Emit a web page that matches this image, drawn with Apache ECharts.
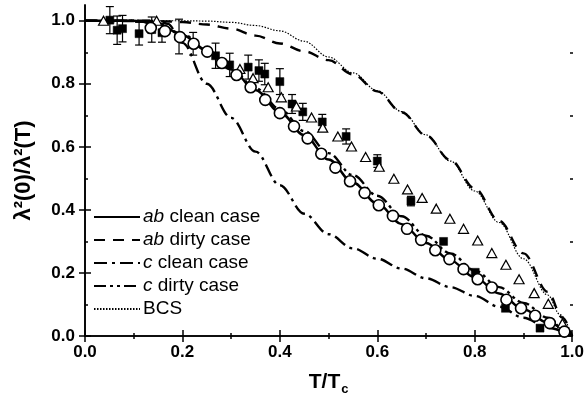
<!DOCTYPE html>
<html><head><meta charset="utf-8">
<script src="https://cdn.jsdelivr.net/npm/echarts@6/dist/echarts.min.js"></script>
<style>html,body{margin:0;padding:0;background:#fff}#c{width:587px;height:403px}</style>
</head><body><div id="c"></div>
<script>
// ---- data ----
const xTicks = [0, 0.2, 0.4, 0.6, 0.8, 1.0];
const yTicks = [0, 0.2, 0.4, 0.6, 0.8, 1.0];
const yMinorTicks = [0.1, 0.3, 0.5, 0.7, 0.9];

const abClean = [[0,1],[0.1,1],[0.15,0.99],[0.2,0.955],[0.25,0.905],[0.3,0.845],[0.35,0.78],[0.4,0.71],[0.45,0.637],[0.5,0.56],[0.55,0.487],[0.6,0.42],[0.65,0.355],[0.7,0.295],[0.75,0.24],[0.8,0.186],[0.85,0.135],[0.9,0.085],[0.95,0.042],[1,0]];
const abDirty = [[0,1],[0.15,0.999],[0.2,0.996],[0.25,0.988],[0.3,0.975],[0.35,0.953],[0.4,0.928],[0.45,0.903],[0.5,0.875],[0.55,0.83],[0.6,0.776],[0.65,0.71],[0.7,0.636],[0.75,0.558],[0.8,0.468],[0.85,0.365],[0.9,0.262],[0.95,0.14],[0.98,0.058],[1,0]];
const cClean = [[0,1],[0.15,1],[0.17,0.99],[0.2,0.93],[0.25,0.8],[0.3,0.692],[0.35,0.585],[0.4,0.478],[0.45,0.388],[0.5,0.323],[0.55,0.278],[0.6,0.245],[0.65,0.214],[0.7,0.183],[0.75,0.155],[0.8,0.127],[0.85,0.093],[0.9,0.058],[0.95,0.026],[1,0]];
const cDirty = [[0,1],[0.1,1],[0.15,0.99],[0.2,0.958],[0.25,0.908],[0.3,0.848],[0.35,0.786],[0.4,0.72],[0.45,0.65],[0.5,0.58],[0.55,0.51],[0.6,0.445],[0.65,0.38],[0.7,0.318],[0.75,0.262],[0.8,0.208],[0.85,0.155],[0.9,0.105],[0.95,0.058],[0.98,0.024],[1,0]];
const bcs = [[0,1],[0.1,1],[0.2,1],[0.25,0.999],[0.3,0.995],[0.35,0.985],[0.4,0.968],[0.45,0.935],[0.5,0.885],[0.55,0.835],[0.6,0.778],[0.65,0.712],[0.7,0.638],[0.75,0.555],[0.8,0.46],[0.85,0.36],[0.9,0.245],[0.95,0.13],[0.975,0.068],[1,0]];

const circles = [[0.135,0.977],[0.164,0.967],[0.195,0.948],[0.223,0.927],[0.251,0.902],[0.281,0.866],[0.311,0.828],[0.340,0.789],[0.370,0.749],[0.400,0.707],[0.429,0.665],[0.457,0.627],[0.485,0.578],[0.514,0.534],[0.544,0.491],[0.574,0.454],[0.603,0.415],[0.632,0.381],[0.661,0.340],[0.690,0.305],[0.719,0.272],[0.748,0.244],[0.777,0.212],[0.806,0.180],[0.835,0.154],[0.865,0.115],[0.895,0.088],[0.924,0.064],[0.954,0.041],[0.984,0.014]];
const triangles = [[0.038,1.0],[0.147,1.0],[0.318,0.847],[0.345,0.818],[0.376,0.789],[0.403,0.757],[0.434,0.728],[0.465,0.693],[0.488,0.661],[0.519,0.633],[0.547,0.601],[0.576,0.568],[0.604,0.537],[0.634,0.499],[0.662,0.465],[0.692,0.438],[0.721,0.404],[0.749,0.372],[0.777,0.340],[0.806,0.303],[0.835,0.263],[0.864,0.226],[0.891,0.180],[0.922,0.136],[0.951,0.102],[0.980,0.040]];
// [T, value, error half-width]
const squares = [[0.051,1.002,0.043],[0.066,0.970,0.045],[0.077,0.975,0.042],[0.111,0.959,0.036],[0.137,0.972,0.040],[0.158,0.962,0.030],[0.193,0.950,0.055],[0.222,0.927,0.036],[0.268,0.889,0.040],[0.297,0.860,0.037],[0.335,0.853,0.038],[0.357,0.842,0.034],[0.369,0.831,0.034],[0.400,0.807,0.041],[0.425,0.736,0.030],[0.447,0.711,0.027],[0.487,0.679,0.024],[0.536,0.633,0.024],[0.600,0.555,0.020],[0.669,0.428,0.015],[0.736,0.300,0],[0.801,0.202,0],[0.863,0.088,0],[0.934,0.025,0]];

const FONT = '"Liberation Sans", Arial, sans-serif';
const chart = echarts.init(document.getElementById('c'), null, {renderer:'canvas'});
const gridRect = {left:85, right:14, top:5, bottom:67};
const axLine = {show:true, lineStyle:{color:'#000', width:1.6}};

function lineSeries(name, data, type, width){
  return {name, type:'line', data, smooth:0.35, smoothMonotone:'x', symbol:'none', showSymbol:false,
    xAxisIndex:0, yAxisIndex:0, z:2, silent:true,
    itemStyle:{color:'#000'},
    lineStyle:{color:'#000', width, type, cap:'butt'}};
}

chart.setOption({
  animation:false,
  backgroundColor:'#fff',
  grid:[Object.assign({}, gridRect), Object.assign({}, gridRect)],
  xAxis:[
    {gridIndex:0, type:'value', min:0, max:1, interval:0.2, position:'bottom',
     axisLine:axLine, splitLine:{show:false},
     axisTick:{show:true, inside:true, length:6, lineStyle:{color:'#000', width:1.5}},
     minorTick:{show:true, splitNumber:2, length:3, lineStyle:{color:'#000', width:1.5}},
     axisLabel:{customValues:xTicks, formatter:v=>v.toFixed(1), color:'#000', fontSize:17, fontWeight:'bold', fontFamily:FONT, margin:8},
     name:'{a|T/T}{b|c}', nameLocation:'middle', nameGap:33,
     nameTextStyle:{rich:{a:{fontSize:21, fontWeight:'bold', fontFamily:FONT, color:'#000', lineHeight:26},
                          b:{fontSize:13, fontWeight:'bold', fontFamily:FONT, color:'#000', padding:[14,0,0,1], lineHeight:26}}}},
    {gridIndex:0, type:'value', min:0, max:1, interval:0.2, position:'top',
     axisLine:axLine, splitLine:{show:false},
     axisTick:{show:true, inside:true, length:6, lineStyle:{color:'#000', width:1.5}},
     minorTick:{show:true, splitNumber:2, length:3, lineStyle:{color:'#000', width:1.5}},
     axisLabel:{show:false}},
    {gridIndex:1, type:'value', min:0, max:1, show:false}
  ],
  yAxis:[
    {gridIndex:0, type:'value', min:0, max:1.05, interval:0.2, position:'left',
     axisLine:axLine, splitLine:{show:false},
     axisTick:{show:true, inside:true, length:6, customValues:yTicks, lineStyle:{color:'#000', width:1.5}},
     axisLabel:{customValues:yTicks, formatter:v=>v.toFixed(1), color:'#000', fontSize:17, fontWeight:'bold', fontFamily:FONT, margin:10},
     name:'λ²(0)/λ²(T)', nameLocation:'middle', nameGap:50, nameRotate:90,
     nameTextStyle:{fontSize:22, fontWeight:'bold', fontFamily:FONT, color:'#000'}},
    {gridIndex:0, type:'value', min:0, max:1.05, interval:0.2, position:'right',
     axisLine:axLine, splitLine:{show:false},
     axisTick:{show:true, inside:true, length:6, customValues:yTicks, lineStyle:{color:'#000', width:1.5}},
     axisLabel:{show:false}},
    {gridIndex:1, type:'value', min:0, max:1.05, position:'left',
     axisLine:{show:false}, splitLine:{show:false},
     axisTick:{show:true, inside:true, length:3, customValues:yMinorTicks, lineStyle:{color:'#000', width:1.5}},
     axisLabel:{show:false}},
    {gridIndex:1, type:'value', min:0, max:1.05, position:'right',
     axisLine:{show:false}, splitLine:{show:false},
     axisTick:{show:true, inside:true, length:3, customValues:yMinorTicks, lineStyle:{color:'#000', width:1.5}},
     axisLabel:{show:false}}
  ],
  legend:{
    orient:'vertical', left:88, top:202, itemWidth:46, itemHeight:14, itemGap:3,
    data:['ab clean case','ab dirty case','c clean case','c dirty case','BCS'],
    itemStyle:{opacity:0},
    formatter:function(n){
      if (n.indexOf('ab ')===0) return '{i|ab}' + n.slice(2);
      if (n.indexOf('c ')===0) return '{i|c}' + n.slice(1);
      return n;
    },
    textStyle:{fontSize:19, fontFamily:FONT, color:'#000', lineHeight:20, padding:[0,0,0,-2],
      rich:{i:{fontSize:19, fontStyle:'italic', fontFamily:FONT, color:'#000', lineHeight:20}}},
    selectedMode:false
  },
  series:[
    lineSeries('ab clean case', abClean, 'solid', 2.4),
    lineSeries('ab dirty case', abDirty, [11,8], 2.4),
    lineSeries('c clean case', cClean, [13,5,3,5], 2.4),
    lineSeries('c dirty case', cDirty, [12,4,3,4,3,4], 2.4),
    lineSeries('BCS', bcs, [1.5,1.5], 1.2),
    {type:'custom', xAxisIndex:0, yAxisIndex:0, z:3, silent:true,
     data:squares,
     renderItem:function(params, api){
       const x = api.value(0), y = api.value(1), e = api.value(2);
       if (!e) return null;
       const t = api.coord([x, y+e]), b = api.coord([x, y-e]);
       const hw = 4, st = {stroke:'#000', lineWidth:1.2};
       return {type:'group', children:[
         {type:'line', shape:{x1:t[0], y1:t[1], x2:b[0], y2:b[1]}, style:st},
         {type:'line', shape:{x1:t[0]-hw, y1:t[1], x2:t[0]+hw, y2:t[1]}, style:st},
         {type:'line', shape:{x1:b[0]-hw, y1:b[1], x2:b[0]+hw, y2:b[1]}, style:st}
       ]};
     }},
    {type:'scatter', data:squares.map(d=>[d[0],d[1]]), symbol:'rect', symbolSize:8, z:4, silent:true,
     itemStyle:{color:'#000', borderColor:'#000', borderWidth:0.5, opacity:1}},
    {type:'scatter', data:triangles, symbol:'triangle', symbolSize:[10,9], z:5, silent:true,
     itemStyle:{color:'#fff', borderColor:'#000', borderWidth:1.2, opacity:1}},
    {type:'scatter', data:circles, symbol:'circle', symbolSize:11, z:6, silent:true,
     itemStyle:{color:'#fff', borderColor:'#000', borderWidth:1.6, opacity:1}}
  ]
});
</script></body></html>
